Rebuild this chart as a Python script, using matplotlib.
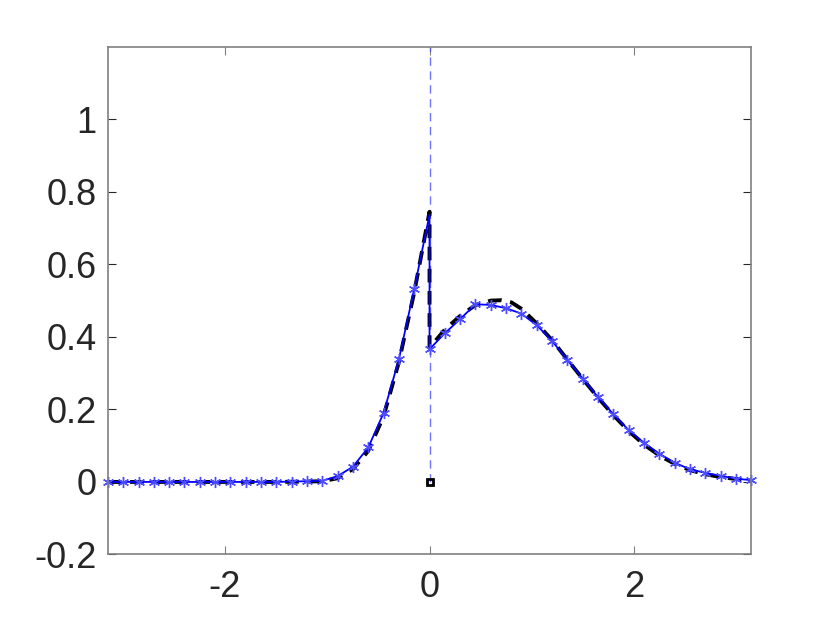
import numpy as np
import matplotlib as mpl
mpl.use('Agg')
import matplotlib.pyplot as plt

# numerical solution on grid x_k = -pi + k*pi/21, k = 0..42
k_grid = np.arange(43)
u_num = [0, 0, 0, 0, 0, 0, 0, 0, 0, 0, 0, 0, 0.001,
         0.002, 0.003, 0.016, 0.042, 0.095, 0.19, 0.338, 0.532,
         0.366,
         0.41, 0.449, 0.49, 0.488, 0.479, 0.464, 0.432, 0.389, 0.336,
         0.285, 0.234, 0.187, 0.143, 0.108, 0.078, 0.053, 0.035, 0.025,
         0.017, 0.009, 0.005]
u_left_limit = 0.737   # value just left of the jump at x=0

# reference (exact) solution
x_ref = [-np.pi, -2.5, -2.0, -1.5, -1.2, -1.05, -0.9, -0.75, -0.6, -0.45,
         -0.3, -0.15, 0.0, 0.0, 0.15, 0.3, 0.45, 0.6, 0.7, 0.8, 0.9, 1.05,
         1.2, 1.35, 1.5, 1.65, 1.8, 1.95, 2.1, 2.25, 2.4, 2.55, 2.7, 2.85,
         3.0, np.pi]
u_ref = [0, 0, 0, 0, 0.001, 0.002, 0.01, 0.035, 0.085, 0.18,
         0.33, 0.522, 0.745, 0.37, 0.42, 0.458, 0.488, 0.500, 0.501, 0.495,
         0.477, 0.436, 0.39, 0.336, 0.283, 0.231, 0.183, 0.139, 0.102,
         0.072, 0.049, 0.032, 0.021, 0.013, 0.008, 0.005]

x_num = -np.pi + k_grid * np.pi / 21
u_num = np.array(u_num)
# line with both one-sided values at the interface
x_line = np.concatenate([x_num[:21], [0.0], x_num[21:]])
u_line = np.concatenate([u_num[:21], [u_left_limit], u_num[21:]])

plt.rcParams['font.family'] = ['Liberation Sans', 'DejaVu Sans']

fig = plt.figure(figsize=(8.3, 6.23), dpi=100)
ax = fig.add_axes([0.13, 0.11, 0.775, 0.815])

ax.plot([0, 0], [0, 1.2], '--', color=(0.3, 0.3, 1.0), alpha=0.8,
        lw=1.0, dashes=(6, 4))
ax.plot(x_ref, u_ref, '--', color='k', lw=2.8, dashes=(3.5, 2.2))
ax.plot(x_line, u_line, '-', color='b', lw=1.3)
ax.plot(x_num, u_num, ls='none', marker=(6, 2, 0), ms=8, mew=1.0,
        color=(0.3, 0.3, 1.0), clip_on=False)
ax.plot([0], [0], 's', mfc='none', mec='k', ms=5, mew=2)

ax.set_xlim(-np.pi, np.pi)
ax.set_ylim(-0.2, 1.2)
ax.set_xticks([-2, 0, 2])
ax.set_xticklabels(['-2', '0', '2'])
ax.set_yticks([-0.2, 0, 0.2, 0.4, 0.6, 0.8, 1])
ax.set_yticklabels(['-0.2', '0', '0.2', '0.4', '0.6', '0.8', '1'])

for s in ax.spines.values():
    s.set_color('0.5')
    s.set_linewidth(1.2)
ax.tick_params(axis='both', direction='in', length=6, labelsize=26,
               labelcolor='#262626', top=True, right=True)
ax.tick_params(axis='x', color='0.5', pad=11)
ax.tick_params(axis='y', color='#262626', pad=8)

fig.savefig('out.png', dpi=100)
